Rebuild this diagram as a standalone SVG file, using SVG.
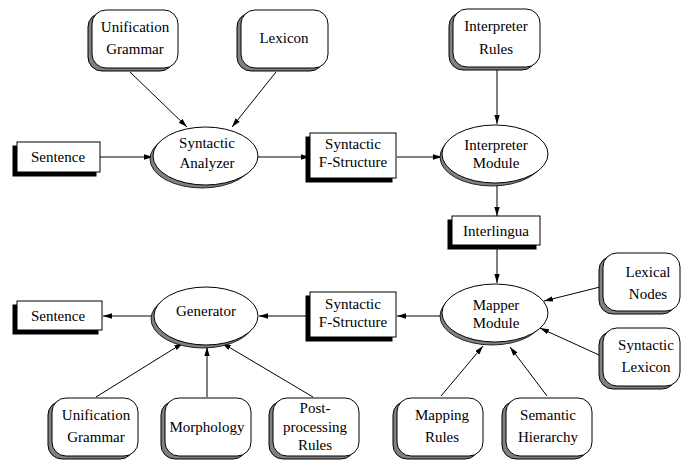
<svg xmlns="http://www.w3.org/2000/svg" width="681" height="460" viewBox="0 0 681 460" font-family="'Liberation Serif', 'Times New Roman', serif">
<style>
text{font-family:"Liberation Serif","Times New Roman",serif;font-size:15px;fill:#000;text-anchor:middle}
.rb{fill:#fff;stroke:#000;stroke-width:1}
.rs{fill:#808080;stroke:#000;stroke-width:1}
.bx{fill:#fff;stroke:#000;stroke-width:1}
.bs{fill:#000;stroke:#000;stroke-width:1}
.el{fill:#fff;stroke:#000;stroke-width:1}
.es{fill:#808080;stroke:#000;stroke-width:0.8}
.c{stroke:#000;stroke-width:1;fill:none;marker-end:url(#ah)}
</style>
<defs>
<marker id="ah" viewBox="0 0 10 6" refX="10" refY="3" markerWidth="9" markerHeight="5.4" markerUnits="userSpaceOnUse" orient="auto">
<path d="M0,0 L10,3 L0,6 Z" fill="#000"/>
</marker>
</defs>
<rect width="681" height="460" fill="#fff"/>

<g id="connectors">
<line class="c" x1="130" y1="72" x2="187" y2="127"/>
<line class="c" x1="276" y1="72" x2="232" y2="127"/>
<line class="c" x1="100" y1="157" x2="153" y2="157"/>
<line class="c" x1="258" y1="157" x2="310" y2="157"/>
<line class="c" x1="397" y1="157" x2="442" y2="157"/>
<line class="c" x1="497" y1="70" x2="497" y2="124"/>
<line class="c" x1="497" y1="185" x2="497" y2="216"/>
<line class="c" x1="497" y1="249" x2="497" y2="283"/>
<line class="c" x1="600" y1="287" x2="544" y2="301"/>
<line class="c" x1="599" y1="355" x2="540" y2="328"/>
<line class="c" x1="441" y1="396" x2="483" y2="346"/>
<line class="c" x1="547" y1="396" x2="510" y2="347"/>
<line class="c" x1="441" y1="316" x2="397" y2="316"/>
<line class="c" x1="310" y1="316" x2="259" y2="316"/>
<line class="c" x1="153" y1="316" x2="103" y2="316"/>
<line class="c" x1="96" y1="397" x2="183" y2="343"/>
<line class="c" x1="207" y1="397" x2="207" y2="347"/>
<line class="c" x1="313" y1="397" x2="222" y2="343"/>
</g>

<g id="unification-grammar-top">
<rect class="rs" x="88" y="13" width="86" height="58" rx="14"/>
<rect class="rb" x="92" y="10" width="86" height="58" rx="14"/>
<text x="135" y="32">Unification</text>
<text x="135" y="54">Grammar</text>
</g>
<g id="lexicon-top">
<rect class="rs" x="237" y="13" width="87" height="58" rx="14"/>
<rect class="rb" x="241" y="10" width="87" height="58" rx="14"/>
<text x="284" y="43">Lexicon</text>
</g>
<g id="interpreter-rules">
<rect class="rs" x="449" y="12" width="87" height="58" rx="14"/>
<rect class="rb" x="453" y="9" width="87" height="58" rx="14"/>
<text x="496" y="31">Interpreter</text>
<text x="496" y="54">Rules</text>
</g>

<g id="sentence-top">
<rect class="bs" x="13" y="146" width="83" height="30"/>
<rect class="bx" x="17" y="142" width="83" height="30"/>
<text x="58" y="162">Sentence</text>
</g>
<g id="syntactic-analyzer">
<ellipse class="es" cx="202" cy="159" rx="52" ry="29"/>
<ellipse class="el" cx="205.5" cy="156" rx="52.5" ry="29"/>
<text x="207" y="148">Syntactic</text>
<text x="207" y="168">Analyzer</text>
</g>
<g id="syntactic-fstructure-top">
<rect class="bs" x="306" y="137" width="86" height="45"/>
<rect class="bx" x="310" y="133" width="86" height="45"/>
<text x="353" y="149">Syntactic</text>
<text x="353" y="167">F-Structure</text>
</g>
<g id="interpreter-module">
<ellipse class="es" cx="492" cy="157" rx="52" ry="29"/>
<ellipse class="el" cx="495" cy="154" rx="53" ry="29"/>
<text x="496" y="150">Interpreter</text>
<text x="496" y="168">Module</text>
</g>

<g id="interlingua">
<rect class="bs" x="448" y="220" width="88" height="29"/>
<rect class="bx" x="452" y="216" width="88" height="29"/>
<text x="496" y="236">Interlingua</text>
</g>

<g id="mapper-module">
<ellipse class="es" cx="492" cy="316" rx="52" ry="29"/>
<ellipse class="el" cx="495" cy="313" rx="53" ry="29"/>
<text x="496" y="310">Mapper</text>
<text x="496" y="328">Module</text>
</g>
<g id="lexical-nodes">
<rect class="rs" x="599" y="256" width="77" height="58" rx="14"/>
<rect class="rb" x="603" y="253" width="77" height="58" rx="14"/>
<text x="648" y="277">Lexical</text>
<text x="648" y="299">Nodes</text>
</g>
<g id="syntactic-lexicon">
<rect class="rs" x="599" y="331" width="77" height="58" rx="14"/>
<rect class="rb" x="603" y="328" width="77" height="58" rx="14"/>
<text x="646" y="350">Syntactic</text>
<text x="646" y="372">Lexicon</text>
</g>
<g id="mapping-rules">
<rect class="rs" x="393" y="401" width="86" height="58" rx="14"/>
<rect class="rb" x="397" y="398" width="86" height="58" rx="14"/>
<text x="442" y="420">Mapping</text>
<text x="442" y="442">Rules</text>
</g>
<g id="semantic-hierarchy">
<rect class="rs" x="502" y="401" width="86" height="58" rx="14"/>
<rect class="rb" x="506" y="398" width="86" height="58" rx="14"/>
<text x="548" y="420">Semantic</text>
<text x="548" y="442">Hierarchy</text>
</g>

<g id="syntactic-fstructure-bottom">
<rect class="bs" x="306" y="296" width="86" height="45"/>
<rect class="bx" x="310" y="292" width="86" height="45"/>
<text x="353" y="309">Syntactic</text>
<text x="353" y="327">F-Structure</text>
</g>
<g id="generator">
<ellipse class="es" cx="203" cy="319" rx="52" ry="29"/>
<ellipse class="el" cx="206" cy="316" rx="52" ry="29"/>
<text x="206" y="316">Generator</text>
</g>
<g id="sentence-bottom">
<rect class="bs" x="13" y="305" width="85" height="29"/>
<rect class="bx" x="17" y="301" width="85" height="29"/>
<text x="58" y="321">Sentence</text>
</g>
<g id="unification-grammar-bottom">
<rect class="rs" x="48" y="401" width="86" height="58" rx="14"/>
<rect class="rb" x="52" y="398" width="86" height="58" rx="14"/>
<text x="96" y="420">Unification</text>
<text x="96" y="442">Grammar</text>
</g>
<g id="morphology">
<rect class="rs" x="161" y="401" width="86" height="58" rx="14"/>
<rect class="rb" x="165" y="398" width="86" height="58" rx="14"/>
<text x="207" y="432">Morphology</text>
</g>
<g id="post-processing-rules">
<rect class="rs" x="269" y="401" width="86" height="58" rx="14"/>
<rect class="rb" x="273" y="398" width="86" height="58" rx="14"/>
<text x="315" y="413">Post-</text>
<text x="315" y="432">processing</text>
<text x="315" y="450">Rules</text>
</g>
</svg>
